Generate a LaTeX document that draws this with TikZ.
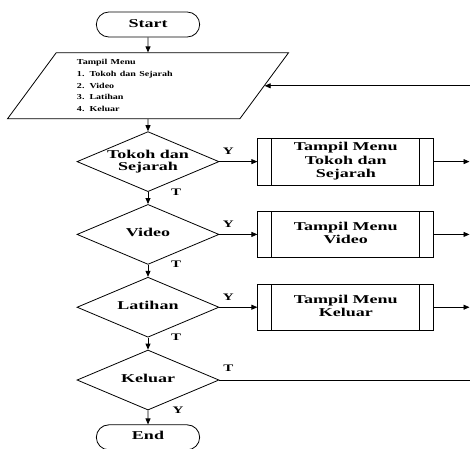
\documentclass[tikz,border=0pt]{standalone}
\usepackage{fontspec}
\usepackage{graphicx}
\setmainfont{Liberation Serif}
\usetikzlibrary{arrows.meta,positioning,shapes.geometric,shapes.misc}

% wide text block: x-scale, column alignment, lines
\newcommand{\wtxt}[3]{\scalebox{#1}[1]{\begin{tabular}{@{}#2@{}}#3\end{tabular}}}

\begin{document}
\begin{tikzpicture}[
    x=1pt, y=1pt,
    every node/.style={font=\bfseries, align=center},
    terminal/.style={rounded rectangle, draw, thick, minimum width=110pt, minimum height=25pt, font=\bfseries\fontsize{12}{13}\selectfont},
    inout/.style={trapezium, trapezium left angle=50, trapezium right angle=130, trapezium stretches body, draw, thick, minimum width=281pt, minimum height=66pt, text width=142pt, align=left, inner sep=0pt, font=\bfseries\fontsize{7.6}{11.6}\selectfont},
    decision/.style={diamond, draw, thick, aspect=2.37, minimum width=142pt, minimum height=60pt, inner sep=0pt, font=\bfseries\fontsize{12}{12}\selectfont},
    subproc/.style={rectangle, draw, thick, minimum width=176pt, minimum height=46pt, font=\bfseries\fontsize{12}{13.3}\selectfont,
      path picture={
        \draw[thick] ([xshift=14pt]path picture bounding box.north west) -- ([xshift=14pt]path picture bounding box.south west);
        \draw[thick] ([xshift=-14pt]path picture bounding box.north east) -- ([xshift=-14pt]path picture bounding box.south east);}},
    answer/.style={inner sep=0pt, font=\bfseries\fontsize{10}{10}\selectfont},
    arrow/.style={thick, -{Triangle[length=6pt,width=5pt]}}
  ]
    \useasboundingbox (0,0) rectangle (470,-448);

    % Main column
    \node[terminal] (start) at (148,-24.5) {\wtxt{1.5}{c}{Start}};
    \node[inout, below=15pt of start] (menu) {\wtxt{1.32}{l}{Tampil Menu\\1. Tokoh dan Sejarah\\2. Video\\3. Latihan\\4. Keluar}};
    \node[decision, below=12pt of menu] (tokoh) {\wtxt{1.5}{c}{Tokoh dan\\Sejarah}};
    \node[decision, below=12pt of tokoh] (video) {\wtxt{1.5}{c}{Video}};
    \node[decision, below=12pt of video] (latihan) {\wtxt{1.5}{c}{Latihan}};
    \node[decision, below=12pt of latihan] (keluar) {\wtxt{1.5}{c}{Keluar}};
    \node[terminal, below=14pt of keluar] (stop) {\wtxt{1.5}{c}{End}};

    % Sub menus
    \node[subproc, right=38pt of tokoh] (mtokoh) {\wtxt{1.5}{c}{Tampil Menu\\Tokoh dan\\Sejarah}};
    \node[subproc, right=38pt of video] (mvideo) {\wtxt{1.5}{c}{Tampil Menu\\Video}};
    \node[subproc, right=38pt of latihan] (mkeluar) {\wtxt{1.5}{c}{Tampil Menu\\Keluar}};

    % Right rim (loop back)
    \coordinate (rim) at (469.5,0);

    % Connections
    \draw[arrow] (start) -- (menu);
    \draw[arrow] (menu) -- (tokoh);
    \draw[arrow] (tokoh) -- (video);
    \draw[arrow] (video) -- (latihan);
    \draw[arrow] (latihan) -- (keluar);
    \draw[arrow] (keluar) -- (stop);

    \draw[arrow] (tokoh) -- (mtokoh);
    \draw[arrow] (video) -- (mvideo);
    \draw[arrow] (latihan) -- (mkeluar);

    \draw[arrow] (mtokoh) -- (mtokoh -| rim);
    \draw[arrow] (mvideo) -- (mvideo -| rim);
    \draw[arrow] (mkeluar) -- (mkeluar -| rim);
    \draw[arrow] (menu.east -| rim) -- (menu.east);
    \draw[thick] (keluar) -- (keluar -| rim);

    % Y / T labels
    \node[answer] (y1) at ([xshift=9pt,yshift=9pt]tokoh.east) {\wtxt{1.5}{c}{Y}};
    \node[answer] (t1) at ([xshift=28pt,yshift=-1pt]tokoh.south) {\wtxt{1.5}{c}{T}};
    \node[answer] (y2) at ([xshift=9pt,yshift=9pt]video.east) {\wtxt{1.5}{c}{Y}};
    \node[answer] (t2) at ([xshift=28pt,yshift=-1pt]video.south) {\wtxt{1.5}{c}{T}};
    \node[answer] (y3) at ([xshift=9pt,yshift=9pt]latihan.east) {\wtxt{1.5}{c}{Y}};
    \node[answer] (t3) at ([xshift=28pt,yshift=-1pt]latihan.south) {\wtxt{1.5}{c}{T}};
    \node[answer] (t4) at ([xshift=9pt,yshift=11pt]keluar.east) {\wtxt{1.5}{c}{T}};
    \node[answer] (y4) at ([xshift=30pt,yshift=-1pt]keluar.south) {\wtxt{1.5}{c}{Y}};

  \end{tikzpicture}
\end{document}
